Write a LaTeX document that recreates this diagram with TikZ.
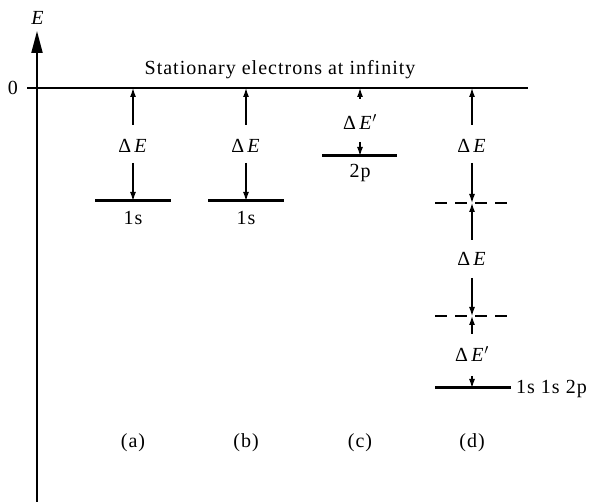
\documentclass[tikz,border=0pt]{standalone}
\usepackage{fontspec}
\setmainfont{Liberation Serif}[LetterSpace=5]
\usetikzlibrary{arrows.meta}
\begin{document}
\begin{tikzpicture}[x=1pt,y=-1pt,
  lvl/.style={line width=3pt},
  dlvl/.style={line width=2.6pt,dash pattern=on 12pt off 8pt},
  arr/.style={line width=1.2pt,-{Latex[length=9pt,width=6pt]}},
  lab/.style={inner sep=0pt,font=\fontsize{20}{24}\selectfont},
  slab/.style={inner sep=0pt,font=\fontsize{20}{24}\selectfont}]
\useasboundingbox (0,0) rectangle (595,502);
% axis
\coordinate (ax0) at (37,502);
\coordinate (ax1) at (37,31);
\draw[line width=2pt,-{Triangle[length=22pt,width=11pt]}] (ax0) -- (ax1);
\node[lab] (Elab) at (38,18) {\textit{E}};
\node[lab] (zero) at (13,88) {0};
\coordinate (z0) at (27,88);
\coordinate (z1) at (528,88);
\draw[line width=1.4pt] (z0) -- (z1);
\node[lab] (title) at (280,70) {Stationary electrons at infinity};
% (a)
\coordinate (a0) at (133,88); \coordinate (a1) at (133,125);
\coordinate (a2) at (133,163); \coordinate (a3) at (133,201);
\coordinate (aL) at (95,201); \coordinate (aR) at (171,201);
\draw[lvl] (aL) -- (aR);
\draw[arr] (a1) -- (a0);
\draw[arr] (a2) -- (a3);
\node[lab] (dEa) at (133,146) {Δ\,\textit{E}};
\node[slab] (sa) at (133,218) {1s};
% (b)
\coordinate (b0) at (246,88); \coordinate (b1) at (246,125);
\coordinate (b2) at (246,163); \coordinate (b3) at (246,201);
\coordinate (bL) at (208,201); \coordinate (bR) at (284,201);
\draw[lvl] (bL) -- (bR);
\draw[arr] (b1) -- (b0);
\draw[arr] (b2) -- (b3);
\node[lab] (dEb) at (246,146) {Δ\,\textit{E}};
\node[slab] (sb) at (246,218) {1s};
% (c)
\coordinate (c0) at (360,88); \coordinate (c1) at (360,99);
\coordinate (c2) at (360,142); \coordinate (c3) at (360,156);
\coordinate (cL) at (322,156); \coordinate (cR) at (397,156);
\draw[lvl] (cL) -- (cR);
\draw[arr] (c1) -- (c0);
\draw[arr] (c2) -- (c3);
\node[lab] (dEc) at (360,122) {Δ\,\textit{E}$'$};
\node[slab] (sc) at (360,173) {2p};
% (d)
\coordinate (d0) at (472,88); \coordinate (d1) at (472,125);
\coordinate (d2) at (472,163); \coordinate (d3) at (472,203);
\coordinate (d4) at (472,240); \coordinate (d5) at (472,278);
\coordinate (d6) at (472,316); \coordinate (d7) at (472,334);
\coordinate (d8) at (472,376); \coordinate (d9) at (472,388);
\coordinate (dL1) at (435,203); \coordinate (dR1) at (512,203);
\coordinate (dL2) at (435,316); \coordinate (dR2) at (512,316);
\coordinate (dL3) at (435,388); \coordinate (dR3) at (511,388);
\draw[dlvl] (dL1) -- (dR1);
\draw[dlvl] (dL2) -- (dR2);
\draw[lvl] (dL3) -- (dR3);
\draw[arr] (d1) -- (d0);
\draw[arr] (d2) -- (d3);
\draw[arr] (d4) -- (d3);
\draw[arr] (d5) -- (d6);
\draw[arr] (d7) -- (d6);
\draw[arr] (d8) -- (d9);
\node[lab] (dEd1) at (472,146) {Δ\,\textit{E}};
\node[lab] (dEd2) at (472,259) {Δ\,\textit{E}};
\node[lab] (dEd3) at (472,354) {Δ\,\textit{E}$'$};
\node[slab,anchor=west] (sd) at (516,389) {1s 1s 2p};
% captions
\node[slab] (ca) at (133,443) {(a)};
\node[slab] (cb) at (246,443) {(b)};
\node[slab] (cc) at (360,443) {(c)};
\node[slab] (cd) at (472,443) {(d)};
\end{tikzpicture}
\end{document}
